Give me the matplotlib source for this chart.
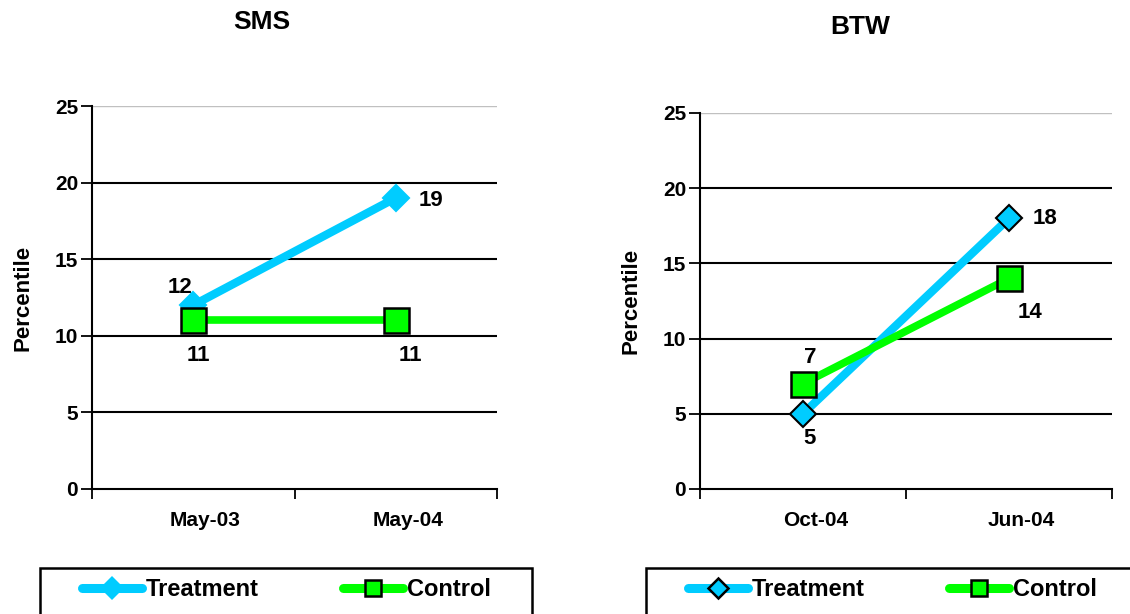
import matplotlib.pyplot as plt
from matplotlib.lines import Line2D
from matplotlib.patches import Rectangle

plt.rcParams['font.family'] = ['Liberation Sans', 'DejaVu Sans']
plt.rcParams['font.weight'] = 'bold'

sms_dates = ["May-03", "May-04"]
sms_treatment = [12, 19]
sms_control = [11, 11]

btw_dates = ["Oct-04", "Jun-04"]
btw_treatment = [5, 18]
btw_control = [7, 14]

CYAN = "#00CCFF"
GREEN = "#00FF00"

W, H = 1130, 614
fig = plt.figure(figsize=(W / 100, H / 100), dpi=100)


def fx(px):
    return px / W


def fy(py):
    return 1 - py / H


def panel(rect, title, title_xy, dates, treat, ctrl, diamond_edge, treat_offsets, ctrl_offsets):
    ax = fig.add_axes(rect)
    x = list(range(len(dates)))
    ax.set_xlim(-0.5, len(dates) - 0.5)
    ax.set_ylim(0, 25)
    ax.set_yticks(range(0, 26, 5))
    ax.set_xticks([-0.5, 0.5, 1.5], minor=False)
    ax.set_xticklabels([])
    # category labels sit a little right of the data points
    ax.set_xticks([i + 0.06 for i in x], minor=True)
    ax.set_xticklabels(dates, minor=True, fontsize=15, fontweight='bold')
    ax.tick_params(axis='x', which='minor', length=0, pad=16)
    ax.tick_params(axis='x', which='major', length=7, width=1.3, direction='out')
    ax.tick_params(axis='y', length=8, width=1.3, labelsize=15, pad=2)
    for lbl in ax.get_yticklabels():
        lbl.set_fontweight('bold')
    for s in ['top', 'right']:
        ax.spines[s].set_visible(False)
    for s in ['left', 'bottom']:
        ax.spines[s].set_linewidth(1.5)
    for v in [5, 10, 15, 20]:
        ax.axhline(v, color='black', lw=1.5, zorder=1)
    ax.axhline(25, color='#c0c0c0', lw=1, zorder=1)
    ax.set_ylabel("Percentile", fontsize=16, fontweight='bold', labelpad=15)

    ec = 'black' if diamond_edge else CYAN
    ax.plot(x, treat, color=CYAN, lw=6, marker='D', markersize=13,
            markerfacecolor=CYAN, markeredgecolor=ec, markeredgewidth=1.5,
            zorder=3, solid_capstyle='butt')
    ax.plot(x, ctrl, color=GREEN, lw=5.5, marker='s', markersize=18,
            markerfacecolor=GREEN, markeredgecolor='black', markeredgewidth=1.8,
            zorder=4, solid_capstyle='butt')
    for i, v in enumerate(treat):
        ax.annotate(str(v), (i, v), xytext=treat_offsets[i], textcoords='offset pixels',
                    ha='center', va='center', fontsize=16, fontweight='bold', zorder=5)
    for i, v in enumerate(ctrl):
        ax.annotate(str(v), (i, v), xytext=ctrl_offsets[i], textcoords='offset pixels',
                    ha='center', va='center', fontsize=16, fontweight='bold', zorder=5)
    fig.text(fx(title_xy[0]), fy(title_xy[1]), title, ha='center', va='center',
             fontsize=19, fontweight='bold')
    return ax


panel([fx(92), fy(489), fx(497) - fx(92), fy(106) - fy(489)], "SMS", (262, 22),
      sms_dates, sms_treatment, sms_control, False,
      [(-13, 18), (35, -3)], [(5, -35), (15, -35)])
panel([fx(700), fy(489), fx(1112) - fx(700), fy(113) - fy(489)], "BTW", (860, 27),
      btw_dates, btw_treatment, btw_control, True,
      [(7, -25), (36, 0)], [(7, 26), (21, -34)])


def legend_box(x0, x1, handle_x, diamond_edge):
    fig.patches.append(Rectangle((fx(x0), fy(640)), fx(x1) - fx(x0), fy(568) - fy(640),
                                 transform=fig.transFigure, fill=False,
                                 edgecolor='black', lw=1.8))
    if diamond_edge:
        diamond = dict(markersize=10, markerfacecolor=CYAN, markeredgecolor='black',
                       markeredgewidth=1.8)
    else:
        diamond = dict(markersize=12, markerfacecolor=CYAN, markeredgecolor=CYAN,
                       markeredgewidth=0)
    handles = [
        Line2D([], [], color=CYAN, lw=6.5, marker='D', solid_capstyle='round', **diamond),
        Line2D([], [], color=GREEN, lw=6.5, marker='s', markersize=12,
               markerfacecolor=GREEN, markeredgecolor='black', markeredgewidth=1.8,
               solid_capstyle='round'),
    ]
    fig.legend(handles, ["Treatment", "Control"], loc='center left',
               bbox_to_anchor=(fx(handle_x), fy(590)), ncol=2, frameon=False,
               borderpad=0, borderaxespad=0,
               handlelength=2.55, handletextpad=0.17, columnspacing=3.55,
               prop={'size': 17, 'weight': 'bold'})


legend_box(40, 532, 82, False)
legend_box(646, 1160, 688, True)

fig.savefig("out.png", dpi=100)
